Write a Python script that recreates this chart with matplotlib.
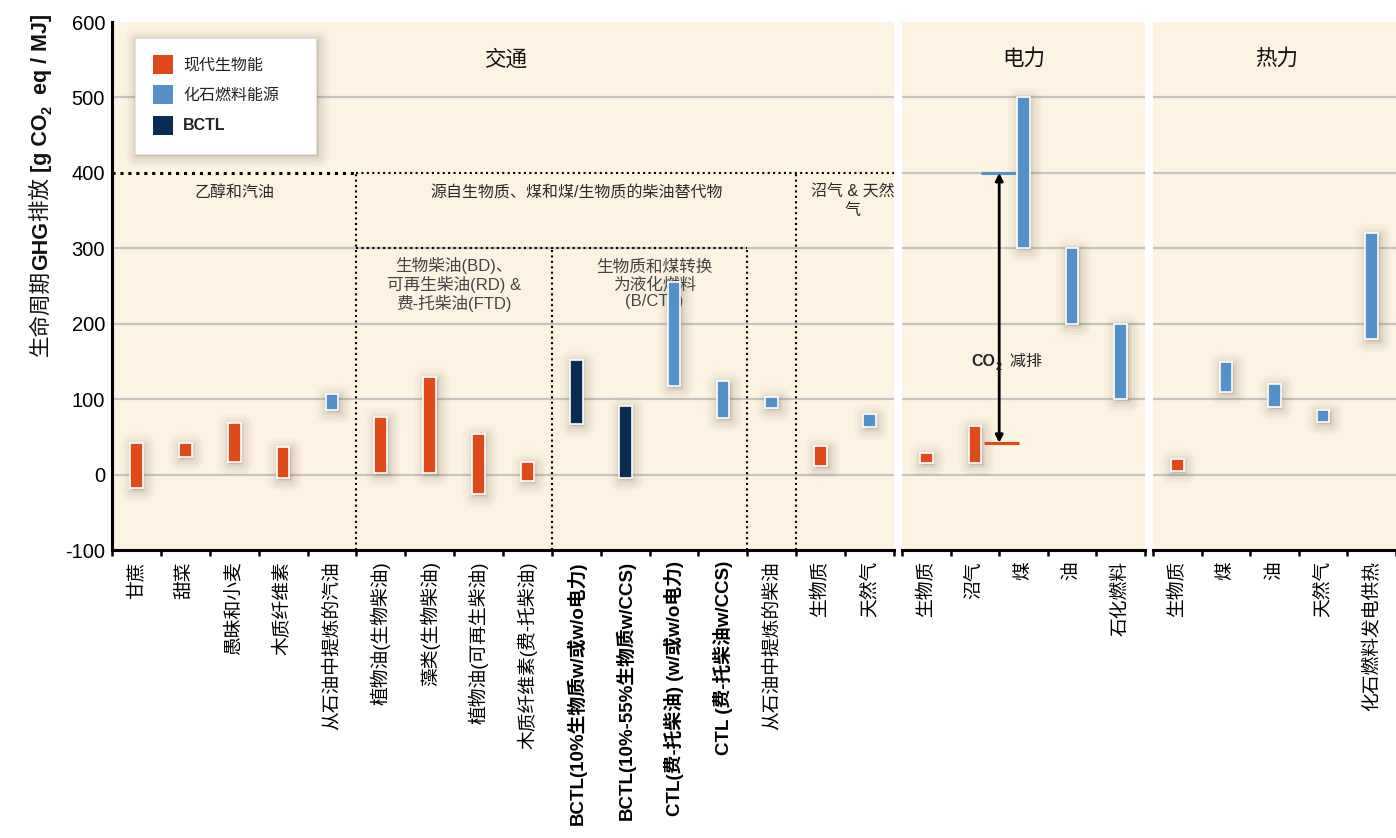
import numpy as np
import matplotlib
matplotlib.use("Agg")
import matplotlib.pyplot as plt
from matplotlib.patches import Rectangle, Patch
from matplotlib.transforms import offset_copy, IdentityTransform

plt.rcParams['font.family'] = ['Liberation Sans', 'Noto Sans CJK SC', 'DejaVu Sans']
plt.rcParams['axes.unicode_minus'] = False

# 交通
transport_labels = ['甘蔗', '甜菜', '愚昧和小麦', '木质纤维素', '从石油中提炼的汽油',
                    '植物油(生物柴油)', '藻类(生物柴油)', '植物油(可再生柴油)', '木质纤维素(费-托柴油)',
                    'BCTL(10%生物质w/或w/o电力)', 'BCTL(10%-55%生物质w/CCS)',
                    'CTL(费-托柴油) (w/或w/o电力)', 'CTL (费-托柴油w/CCS)', '从石油中提炼的柴油',
                    '生物质', '天然气']
transport_low = [-18, 23, 17, -5, 85, 2, 2, -26, -8, 67, -5, 118, 75, 88, 11, 63]
transport_high = [42, 42, 69, 37, 107, 76, 129, 54, 17, 152, 91, 255, 124, 103, 38, 80]
transport_kind = ['bio', 'bio', 'bio', 'bio', 'fossil', 'bio', 'bio', 'bio', 'bio',
                  'bctl', 'bctl', 'fossil', 'fossil', 'fossil', 'bio', 'fossil']
transport_bold = [9, 10, 11, 12]

# 电力
power_labels = ['生物质', '沼气', '煤', '油', '石化燃料']
power_low = [16, 16, 300, 200, 100]
power_high = [29, 64, 500, 300, 199]
power_kind = ['bio', 'bio', 'fossil', 'fossil', 'fossil']

# 热力
heat_labels = ['生物质', '煤', '油', '天然气', '化石燃料发电供热']
heat_low = [5, 110, 90, 70, 180]
heat_high = [20, 149, 120, 85, 320]
heat_kind = ['bio', 'fossil', 'fossil', 'fossil', 'fossil']

# CO2 减排 arrow: coal-power level down to biogas level
reduction_top = 400
reduction_bottom = 42

colors = {'bio': '#de4b19', 'fossil': '#5591c9', 'bctl': '#082c54'}
legend_names = {'bio': '现代生物能', 'fossil': '化石燃料能源', 'bctl': 'BCTL'}
bg = '#fdf3e3'
grid_c = '#c6c4c0'
shadow_c = '#6b5a45'

W, H = 1396, 838
fig = plt.figure(figsize=(W / 100, H / 100), dpi=100)
renderer = fig.canvas.get_renderer()


def px_axes(x0, x1, y0=22, y1=550):
    return fig.add_axes([x0 / W, 1 - y1 / H, (x1 - x0) / W, (y1 - y0) / H])


def soft_shadow(ax, xy, w, h, transform, z):
    tr = offset_copy(transform, fig=fig, x=1.5, y=-2, units='dots')
    for lw, a in [(16, 0.03), (12, 0.04), (8, 0.055), (4, 0.08)]:
        ax.add_patch(Rectangle(xy, w, h, facecolor=shadow_c, edgecolor=shadow_c,
                               linewidth=lw, joinstyle='round', alpha=a,
                               transform=tr, zorder=z, clip_on=False))


def rich_text(x, y, pieces, rotation=0, fontsize=11, color='#222222', center=True):
    # pieces: (text, bold, subscript); laid out along the baseline in pixels
    arts = []
    for s, bold, sub in pieces:
        t = fig.text(0, 0, s, transform=IdentityTransform(), rotation=rotation,
                     rotation_mode='anchor', ha='left', va='baseline',
                     fontsize=fontsize * (0.68 if sub else 1),
                     fontweight='bold' if bold else 'normal', color=color, zorder=10)
        arts.append((t, sub))
    sizes = []
    for t, sub in arts:
        bb = t.get_window_extent(renderer)
        sizes.append(bb.height if rotation == 90 else bb.width)
    total = sum(sizes)
    pos = (y if rotation == 90 else x) - (total / 2 if center else 0)
    shift = fontsize * 100 / 72 * 0.22
    for (t, sub), sz in zip(arts, sizes):
        if rotation == 90:
            t.set_position((x + (shift if sub else 0), pos))
        else:
            t.set_position((pos, y - (shift if sub else 0)))
        pos += sz


def draw_panel(ax, labels, low, high, kind, grid_levels):
    n = len(labels)
    ax.set_facecolor(bg)
    ax.set_xlim(-0.5, n - 0.5)
    ax.set_ylim(-100, 600)
    for y in grid_levels:
        ax.axhline(y, color=grid_c, lw=1.6, zorder=1)
    w = 0.26
    for i in range(n):
        lo, hi = low[i], high[i]
        soft_shadow(ax, (i - w / 2, lo), w, hi - lo, ax.transData, 2)
    ax.bar(np.arange(n), np.array(high) - np.array(low), bottom=low, width=w,
           color=[colors[k] for k in kind], edgecolor='white', linewidth=1.2, zorder=4)
    ax.set_xticks(np.arange(n + 1) - 0.5)
    ax.set_xticklabels([])
    ax.set_xticks(np.arange(n), minor=True)
    ax.set_xticklabels(labels, minor=True, rotation=90, fontsize=13.5, va='top', ha='center')
    ax.tick_params(axis='x', which='major', direction='out', length=4, width=1.8, color='black')
    ax.tick_params(axis='x', which='minor', length=0, pad=8)
    for s in ['top', 'right']:
        ax.spines[s].set_visible(False)
    ax.spines['bottom'].set_linewidth(2.2)
    ax.spines['left'].set_linewidth(2.2)
    ax.spines['bottom'].set_zorder(6)


ax1 = px_axes(112, 894)
ax2 = px_axes(902, 1145)
ax3 = px_axes(1153, 1396)

draw_panel(ax1, transport_labels, transport_low, transport_high, transport_kind,
           [0, 100, 200, 300, 500])
draw_panel(ax2, power_labels, power_low, power_high, power_kind,
           [0, 100, 200, 300, 400, 500])
draw_panel(ax3, heat_labels, heat_low, heat_high, heat_kind,
           [0, 100, 200, 300, 400, 500])

for i in transport_bold:
    ax1.get_xticklabels(minor=True)[i].set_fontweight('bold')

ax1.set_yticks(range(-100, 601, 100))
ax1.tick_params(axis='y', length=0, pad=5, labelsize=14.5)
for ax in (ax2, ax3):
    ax.spines['left'].set_visible(False)
    ax.set_yticks([])

# 交通 sub-groups, dotted boxes
dot = (0, (1, 1.6))
ax1.hlines(400, -0.5, 4.5, colors='black', linestyles=dot, lw=2.2, zorder=3)
ax1.hlines(400, 4.5, 15.5, colors='black', linestyles=dot, lw=1.5, zorder=3)
ax1.hlines(300, 4.5, 12.5, colors='black', linestyles=dot, lw=1.5, zorder=3)
ax1.vlines([4.5, 13.5], -100, 400, colors='black', linestyles=dot, lw=1.5, zorder=3)
ax1.vlines([8.5, 12.5], -100, 300, colors='black', linestyles=dot, lw=1.5, zorder=3)

txt = '#2b2b2b'
ax1.text(7.55, 550, '交通', ha='center', va='center', fontsize=15.5, color='#111111')
ax2.text(2.0, 550, '电力', ha='center', va='center', fontsize=15.5, color='#111111')
ax3.text(2.05, 550, '热力', ha='center', va='center', fontsize=15.5, color='#111111')
ax1.text(2.0, 374, '乙醇和汽油', ha='center', va='center', fontsize=11.5, color=txt)
ax1.text(9.0, 374, '源自生物质、煤和煤/生物质的柴油替代物', ha='center', va='center',
         fontsize=11.5, color=txt)
ax1.text(14.65, 362, '沼气 & 天然\n气', ha='center', va='center', fontsize=11.5,
         color=txt, linespacing=1.25)
ax1.text(6.5, 252, '生物柴油(BD)、\n可再生柴油(RD) &\n费-托柴油(FTD)', ha='center',
         va='center', fontsize=12, color='#444444', linespacing=1.15, zorder=3)
ax1.text(10.6, 252, '生物质和煤转换\n为液化燃料\n(B/CTL)', ha='center',
         va='center', fontsize=12, color='#444444', linespacing=1.15, zorder=3)

# CO2 减排
ax2.hlines(reduction_top, 1.12, 1.87, colors=colors['fossil'], lw=2.2, zorder=3)
ax2.hlines(reduction_bottom, 1.19, 1.9, colors=colors['bio'], lw=2.2, zorder=3)
ax2.annotate('', xy=(1.5, reduction_bottom), xytext=(1.5, reduction_top),
             arrowprops=dict(arrowstyle='<|-|>', color='black', lw=2,
                             mutation_scale=11, shrinkA=0, shrinkB=0), zorder=5)
lx, ly = ax2.transData.transform((0.93, 150))
rich_text(lx, ly - 5, [('CO', True, False), ('2', True, True), ('  减排', False, False)],
          fontsize=11.5, color='#222222', center=False)

# legend panel
bx, by, bw, bh = 0.0294, 0.75, 0.2315, 0.2197
soft_shadow(ax1, (bx, by), bw, bh, ax1.transAxes, 7)
ax1.add_patch(Rectangle((bx, by), bw, bh, transform=ax1.transAxes, facecolor='white',
                        edgecolor='#e2e2e2', lw=0.8, zorder=8))
handles = [Patch(facecolor=colors[k], edgecolor='none', label=legend_names[k])
           for k in ['bio', 'fossil', 'bctl']]
leg = ax1.legend(handles=handles, loc='upper left', bbox_to_anchor=(0.053, 0.938),
                 frameon=False, fontsize=11.5, handlelength=1.2, handleheight=1.45,
                 handletextpad=0.65, labelspacing=0.72, borderpad=0, borderaxespad=0)
leg.set_zorder(9)
for t in leg.get_texts():
    t.set_color('#222222')
leg.get_texts()[2].set_fontweight('bold')

# y axis title
rich_text(47, H - 185,
          [('生命周期', False, False), ('GHG', True, False), ('排放 ', False, False),
           ('[g CO', True, False), ('2', True, True), ('  eq / MJ]', True, False)],
          rotation=90, fontsize=15.5, color='#111111')

fig.savefig('out.png', dpi=100, facecolor='white')
